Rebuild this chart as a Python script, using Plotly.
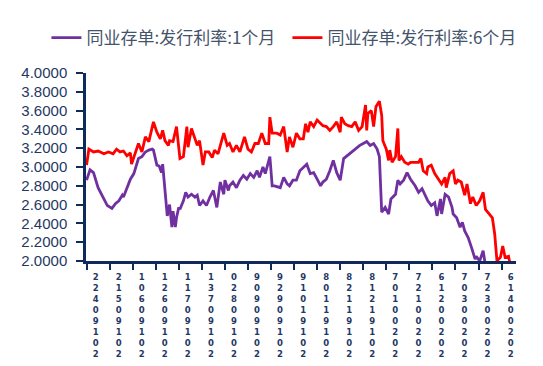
import pandas as pd
import plotly.graph_objects as go

base_date = "2019-04-22"

# 1-month series: day offsets from base_date and values
m1_days = [0, 3, 6, 10, 15, 18, 22, 25, 28, 31, 32, 35, 38, 41, 45, 48, 51, 54, 57, 58,
           61, 63, 65, 66, 68, 70, 72, 74, 75, 77, 78, 80, 81, 84, 86, 88, 91, 94,
           96, 98, 101, 104, 107, 110, 113, 116, 119, 120, 123, 124, 127, 130, 133, 136,
           139, 142, 145, 148, 150, 153, 155, 158, 159, 161, 163, 168, 171, 174, 176,
           179, 182, 185, 188, 191, 194, 197, 200, 203, 205, 208, 211, 214, 217, 220,
           223, 226, 229, 231, 234, 237, 240, 243, 246, 249, 252, 254, 256, 259, 262,
           264, 268, 270, 272, 275, 278, 281, 285, 288, 291, 294, 296, 299, 302, 304,
           307, 308, 311, 314, 317, 318, 321, 324, 326, 328, 331, 334, 337, 338, 341,
           344, 346, 350, 355, 360, 367]
m1_vals = [2.86, 2.97, 2.94, 2.78, 2.66, 2.59, 2.56, 2.61, 2.64, 2.70, 2.68, 2.77, 2.87, 2.93,
           3.09, 3.11, 3.16, 3.18, 3.19, 3.18, 3.02, 3.01, 2.94, 3.03, 2.75, 2.48, 2.60,
           2.36, 2.53, 2.36, 2.46, 2.57, 2.55, 2.64, 2.73, 2.68, 2.71, 2.68,
           2.70, 2.59, 2.64, 2.59, 2.68, 2.75, 2.57, 2.84, 2.71, 2.86, 2.75, 2.80, 2.84,
           2.78, 2.86, 2.91, 2.87, 2.93, 2.89, 2.96, 2.89, 3.00, 2.93, 3.09, 3.11, 2.80,
           2.80, 2.78, 2.89, 2.82, 2.80, 2.86, 2.86, 2.96, 3.00, 3.03, 2.93, 2.94, 2.87,
           2.80, 2.84, 2.87, 2.96, 3.07, 2.94, 2.86, 3.09, 3.12, 3.16, 3.18, 3.21, 3.23,
           3.25, 3.27, 3.23, 3.25, 3.19, 3.11, 2.52, 2.57, 2.50, 2.66, 2.71, 2.86, 2.82,
           2.86, 2.94, 2.87, 2.80, 2.73, 2.77, 2.70, 2.64, 2.59, 2.62, 2.48, 2.66, 2.50,
           2.71, 2.68, 2.57, 2.50, 2.46, 2.36, 2.41, 2.32, 2.25, 2.14, 2.02, 2.05, 2.00,
           2.11, 1.95, 1.90, 1.85, 1.80, 1.78]

# 6-month series
m6_days = [0, 2, 6, 10, 15, 19, 23, 26, 29, 32, 35, 38, 39, 42, 45, 48, 51, 54, 56, 58,
           61, 64, 66, 68, 71, 72, 75, 78, 81, 84, 87, 88, 91, 94, 96, 98, 101, 103,
           106, 109, 111, 114, 117, 119, 122, 124, 127, 130, 133, 136, 137, 140, 143,
           146, 149, 152, 155, 158, 159, 161, 165, 168, 171, 174, 176, 179, 182, 185,
           188, 190, 192, 194, 197, 200, 203, 205, 208, 211, 214, 217, 220, 221, 224,
           227, 230, 233, 236, 239, 242, 243, 244, 247, 249, 251, 254, 256, 257, 260,
           262, 263, 265, 268, 270, 271, 273, 276, 279, 281, 288, 290, 292, 295, 296,
           299, 302, 305, 308, 311, 312, 315, 318, 320, 322, 325, 328, 330, 333, 335,
           338, 341, 344, 346, 348, 352, 354, 356, 359, 361, 363, 366, 367]
m6_vals = [3.02, 3.19, 3.16, 3.17, 3.14, 3.16, 3.14, 3.19, 3.16, 3.17, 3.12, 3.15, 3.03,
           3.14, 3.25, 3.16, 3.32, 3.27, 3.36, 3.48, 3.37, 3.30, 3.39, 3.28, 3.23, 3.28,
           3.27, 3.43, 3.09, 3.11, 3.43, 3.21, 3.41, 3.30, 3.23, 3.28, 3.02, 3.16,
           3.16, 3.10, 3.18, 3.14, 3.28, 3.36, 3.23, 3.25, 3.16, 3.23, 3.16, 3.28, 3.32,
           3.19, 3.16, 3.25, 3.25, 3.36, 3.25, 3.25, 3.53, 3.36, 3.36, 3.34, 3.43, 3.16,
           3.32, 3.21, 3.36, 3.30, 3.30, 3.46, 3.37, 3.48, 3.43, 3.50, 3.46, 3.44, 3.43,
           3.39, 3.43, 3.48, 3.37, 3.53, 3.46, 3.44, 3.43, 3.48, 3.39, 3.43, 3.66, 3.39,
           3.57, 3.60, 3.43, 3.64, 3.70, 3.55, 3.28, 3.19, 3.07, 3.18, 3.05, 3.11, 3.41,
           3.07, 3.11, 3.05, 3.03, 3.05, 3.05, 3.09, 2.96, 2.93, 3.00, 3.02, 2.93, 2.87,
           2.82, 2.89, 2.78, 2.93, 2.96, 2.82, 2.86, 2.84, 2.70, 2.82, 2.61, 2.68, 2.59,
           2.64, 2.73, 2.55, 2.52, 2.46, 2.29, 2.00, 2.04, 2.16, 2.04, 2.05, 1.99]

tick_dates = ["2019-04-22", "2019-05-12", "2019-06-01", "2019-06-21", "2019-07-11",
              "2019-07-31", "2019-08-20", "2019-09-09", "2019-09-29", "2019-10-19",
              "2019-11-08", "2019-11-28", "2019-12-18", "2020-01-07", "2020-01-27",
              "2020-02-16", "2020-03-07", "2020-03-27", "2020-04-16"]

name_1m = "同业存单:发行利率:1个月"
name_6m = "同业存单:发行利率:6个月"

b = pd.Timestamp(base_date)
x1 = [b + pd.Timedelta(days=d) for d in m1_days]
x6 = [b + pd.Timedelta(days=d) for d in m6_days]

tick_text = ["<br>".join(list(t.replace("-", "")[::-1])) for t in tick_dates]

navy = "#0F2B5E"
label_color = "#1F3864"

fig = go.Figure()
fig.add_trace(go.Scatter(x=x1, y=m1_vals, mode="lines", name=name_1m,
                         line=dict(color="#7030A0", width=2.8)))
fig.add_trace(go.Scatter(x=x6, y=m6_vals, mode="lines", name=name_6m,
                         line=dict(color="#FF0000", width=2.8)))

# page body adds an 8px offset, so the figure is 8px smaller than the window
fig.update_layout(
    width=535, height=358,
    margin=dict(l=78, r=27, t=65, b=105, autoexpand=False),
    paper_bgcolor="white", plot_bgcolor="white",
    font=dict(family="Liberation Sans, Arial, sans-serif", color=label_color),
    showlegend=True,
    legend=dict(orientation="h", x=-0.092, xanchor="left", y=1.282, yanchor="top",
                font=dict(family="Noto Sans CJK SC", size=17, color="#44546A"),
                entrywidth=196, bgcolor="rgba(0,0,0,0)"),
)
fig.update_xaxes(
    type="date",
    range=["2019-04-21 12:00", "2020-04-28 12:00"],
    tickvals=tick_dates, ticktext=tick_text,
    ticks="outside", ticklen=6, tickwidth=2, tickcolor=navy,
    showline=True, linecolor=navy, linewidth=2.5,
    showgrid=False, zeroline=False,
    tickangle=0, ticklabelshift=9,
    tickfont=dict(family="DejaVu Sans", size=8.5, weight="bold", color=label_color),
)
fig.update_yaxes(
    range=[2, 4], dtick=0.2, tick0=2, tickformat=".4f",
    ticks="outside", ticklen=7, tickwidth=2, tickcolor=navy,
    showline=True, linecolor=navy, linewidth=2.5,
    showgrid=False, zeroline=False, ticklabelstandoff=6,
    tickfont=dict(family="Liberation Sans", size=15, color=label_color),
)

fig.write_html("out.html")
